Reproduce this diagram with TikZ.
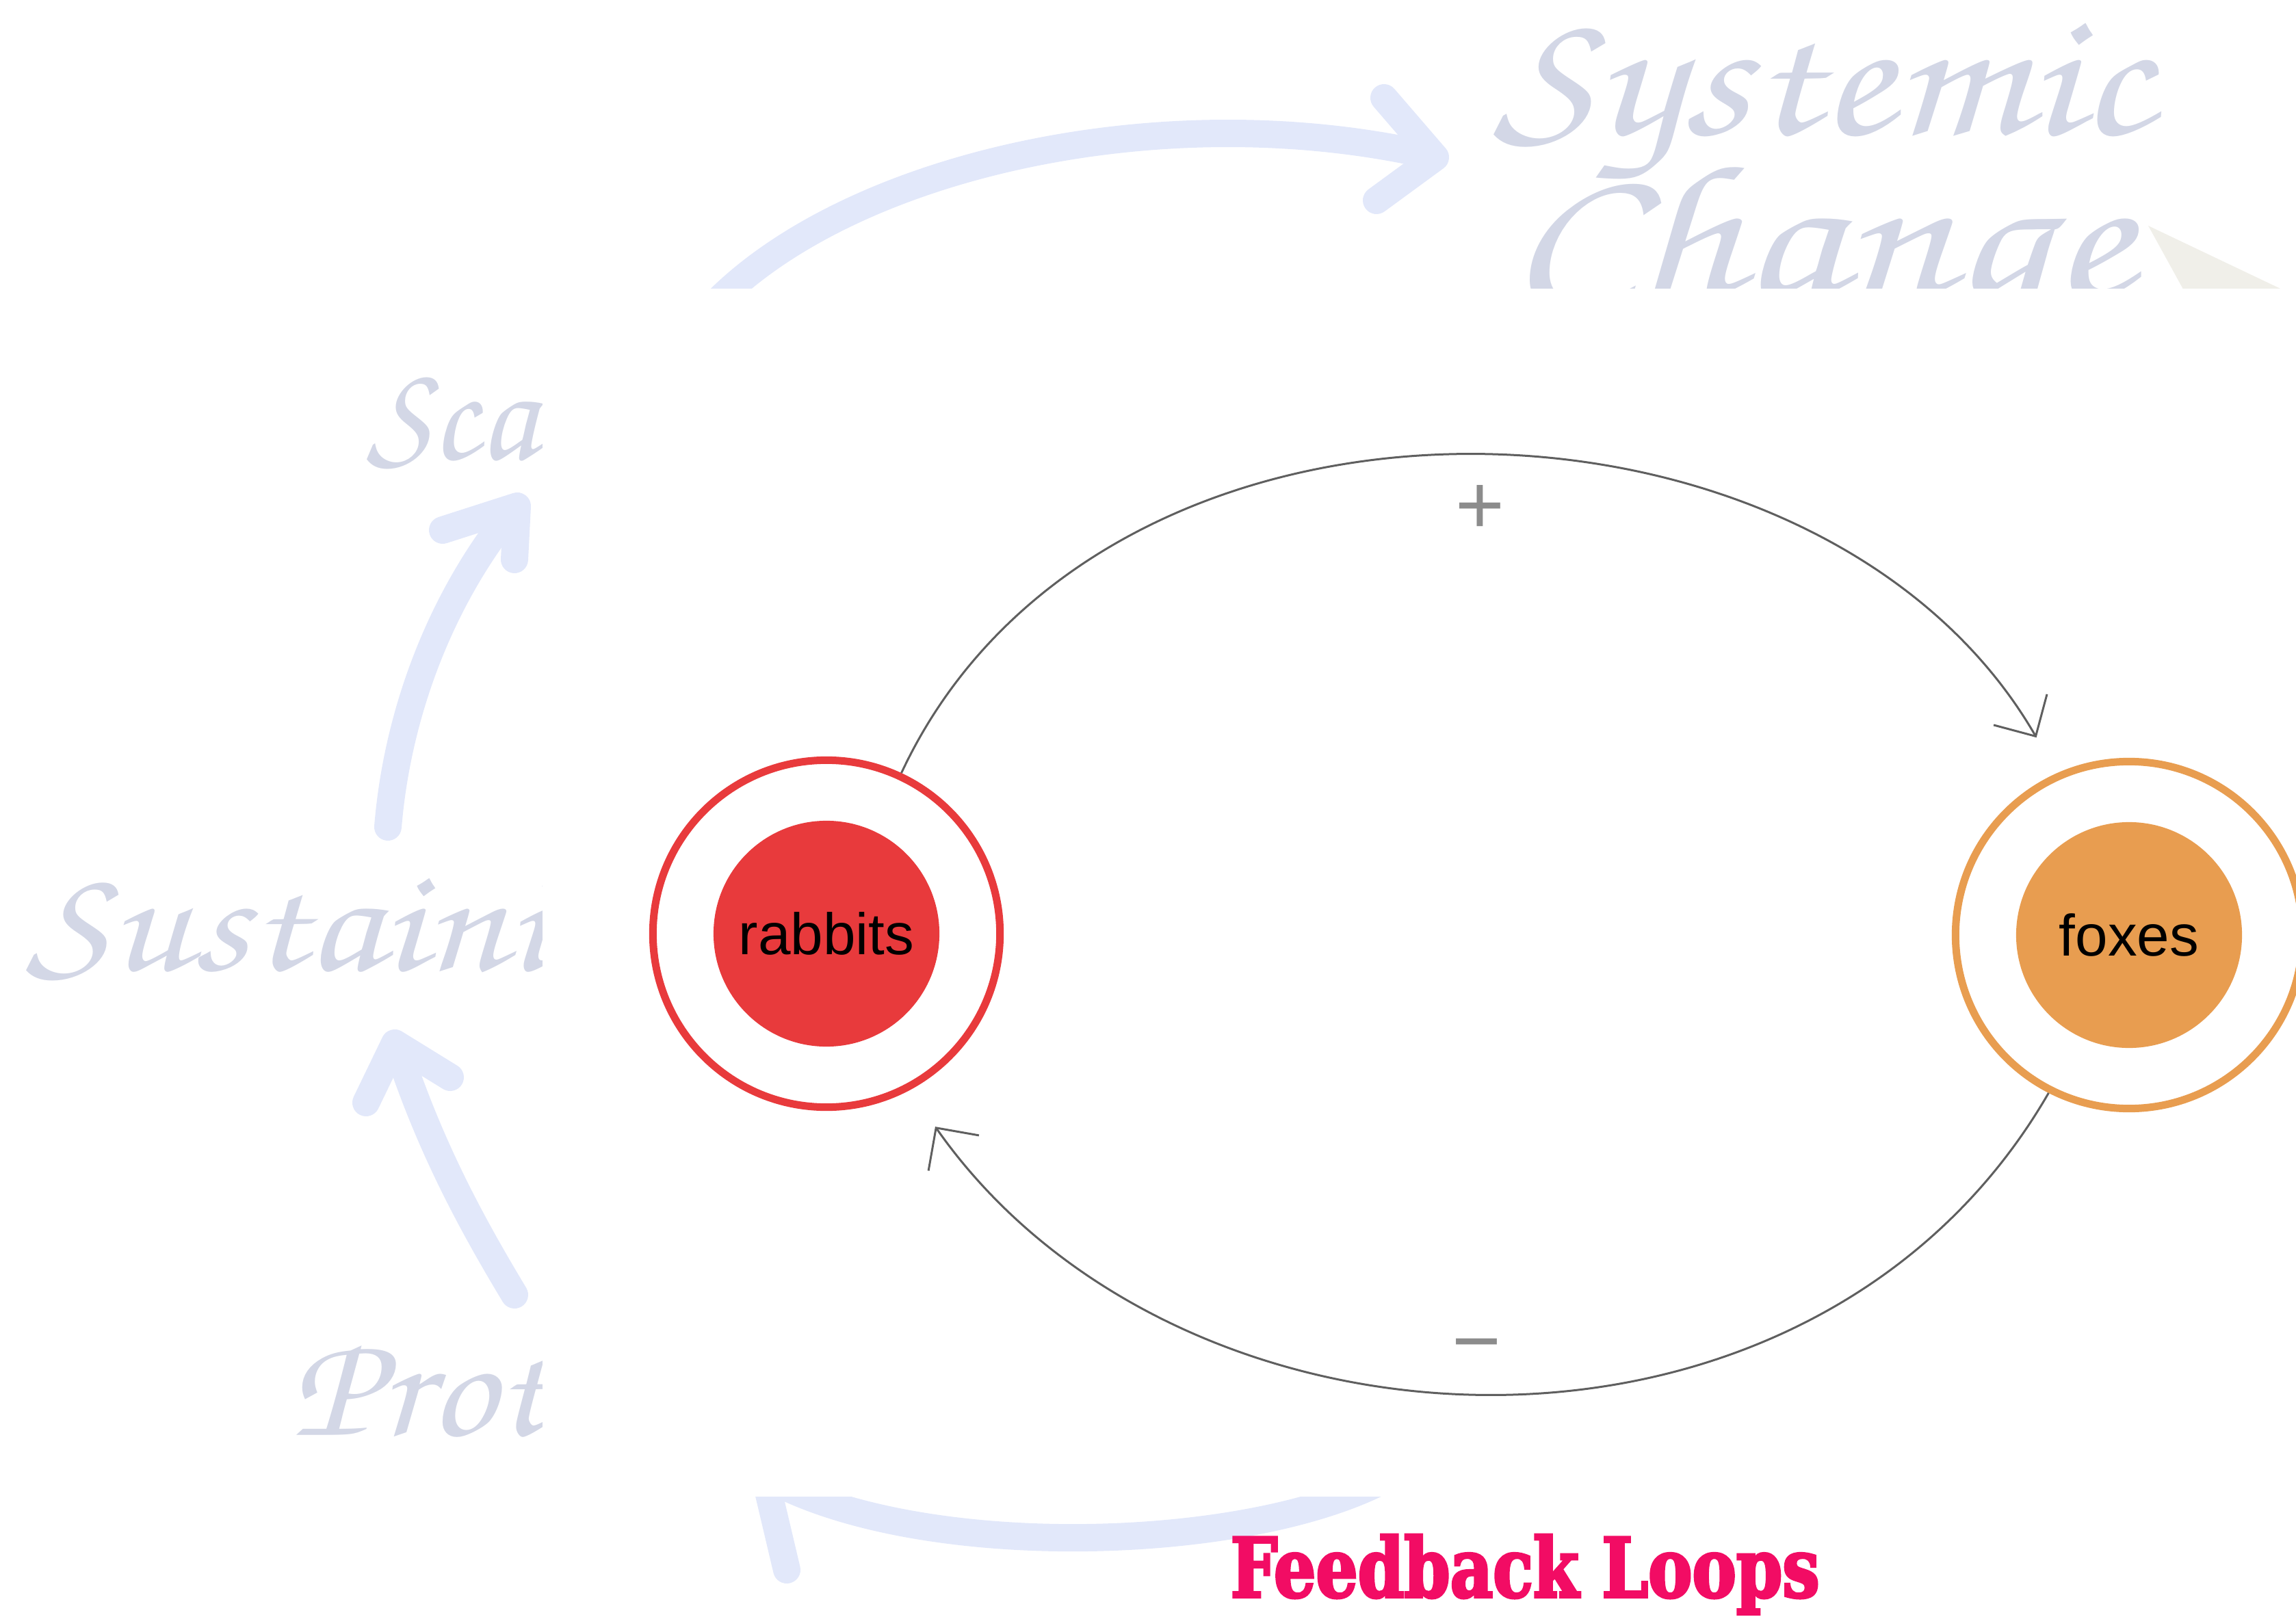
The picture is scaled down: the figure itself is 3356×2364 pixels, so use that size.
\documentclass[tikz,border=0pt]{standalone}
\usepackage[T1,TU]{fontenc}
\usepackage{fontspec}
\usepackage{graphicx}
\usetikzlibrary{arrows.meta}
\newfontfamily\labelfont{Liberation Sans}
\newfontfamily\titlefont[FakeStretch=0.8,BoldFeatures={FakeBold=3}]{DejaVu Serif}
\newcommand\bgfont{\fontencoding{T1}\fontfamily{pzc}\fontseries{mb}\fontshape{it}\selectfont}
\newcommand\bgword[3]{\scalebox{#2}[1]{\bgfont\fontsize{#1}{#1}\selectfont #3}}
\definecolor{RabbitRed}{RGB}{232,58,60}
\definecolor{FoxOrange}{RGB}{232,157,80}
\definecolor{LoopGray}{RGB}{95,95,95}
\definecolor{SignGray}{RGB}{140,140,140}
\definecolor{BgText}{RGB}{211,215,230}
\definecolor{BgArrow}{RGB}{226,232,250}
\definecolor{TitlePink}{RGB}{242,12,100}
\definecolor{CurlBeige}{RGB}{240,239,233}

\begin{document}
\begin{tikzpicture}[x=0.01cm,y=-0.01cm,
  ring/.style={circle,draw=#1,line width=0.11cm,minimum size=5.07cm,inner sep=0pt},
  core/.style={circle,fill=#1,minimum size=3.3cm,inner sep=0pt,text=black,
    font=\labelfont\fontsize{24.3}{29}\selectfont},
  loop/.style={draw=LoopGray,line width=0.03cm,shorten >=0.6cm,
    -{Straight Barb[length=0.45cm,width=0.9cm]}},
  sign/.style={text=SignGray,inner sep=0pt,font=\labelfont\fontsize{35}{40}\selectfont},
  bgtext/.style={text=BgText,inner sep=0pt,anchor=base west},
  bgarrow/.style={draw=BgArrow,line width=0.4cm,line cap=round,line join=round}]
\useasboundingbox (0,0) rectangle (3356,2364);
% faded slide behind the panel
\begin{scope}
\clip (0,0) -- (3356,0) -- (3356,422) -- (792,422) -- (792,2188)
   -- (3356,2188) -- (3356,2364) -- (0,2364) -- cycle;
\node[bgtext,text depth=0pt] (systemic) at (2183,197) {\bgword{75}{1.2}{Systemic}};
\node[bgtext] (change) at (2205,436) {\bgword{80}{1.25}{Change}};
\foreach \n/\x/\y/\s/\k/\t in %
{scale/536/672/58/1.0/Sca,sustain/38/1418/62/1.2/Sustaini,protect/424/2098/62/1.1/Prot} {
   \node[bgtext] (\n) at (\x,\y) {\bgword{\s}{\k}{\t}};
}
\draw[bgarrow] (1049,440) .. controls (1250,240) and (1700,140) .. (2085,226);
\draw[bgarrow] (2023,143) -- (2098,230) -- (2012,293);
\draw[bgarrow] (567,1209) .. controls (580,1050) and (640,880) .. (750,745);
\draw[bgarrow] (647,775) -- (756,740) -- (752,818);
\draw[bgarrow] (752,1893) .. controls (690,1790) and (630,1680) .. (582,1535);
\draw[bgarrow] (535,1612) -- (577,1525) -- (658,1575);
\draw[bgarrow] (2010,2170) .. controls (1800,2270) and (1350,2280) .. (1130,2165);
\draw[bgarrow] (1150,2295) -- (1120,2168) -- (1235,2150);
\fill[CurlBeige] (3140,330) -- (3350,430) -- (3195,430) -- cycle;
\end{scope}
% feedback loop
\node[ring=RabbitRed] (rabbits) at (1208,1365) {};
\node[core=RabbitRed] (rabbitscore) at (rabbits.center) {rabbits};
\node[ring=FoxOrange] (foxes) at (3112,1367) {};
\node[core=FoxOrange] (foxescore) at (foxes.center) {foxes};
\draw[loop] (rabbits.65) to[out=65,in=120,looseness=1.05] (foxes.114);
\draw[loop,shorten >=0.65cm] (foxes.243) to[out=240,in=305,looseness=1.06] (rabbits.298);
\node[sign] (plus) at (2163,745) {+};
\node[sign] (minus) at (2158,1980) {−};
\node[text=TitlePink,inner sep=0pt,anchor=base west,
   font=\titlefont\bfseries\fontsize{34.3}{40}\selectfont] (title) at (1798,2335) {Feedback Loops};
\end{tikzpicture}
\end{document}
